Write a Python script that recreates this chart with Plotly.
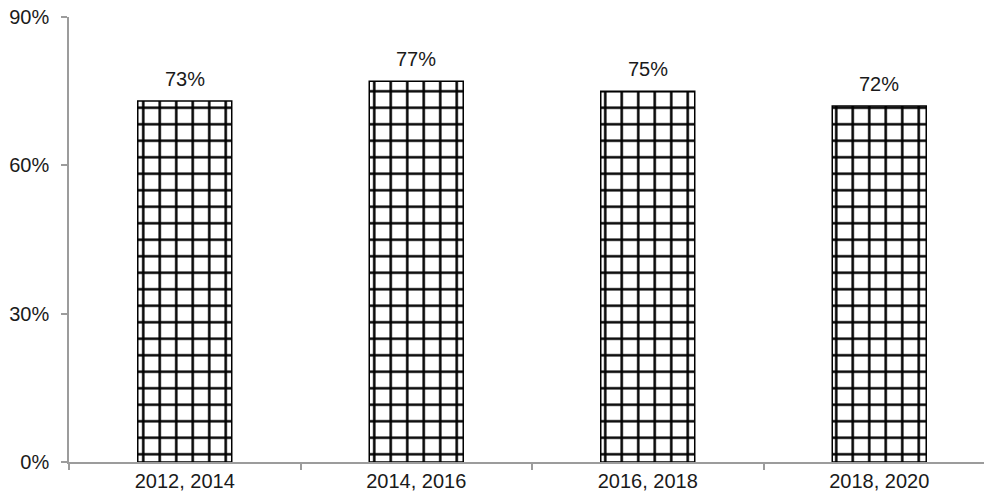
import plotly.graph_objects as go

# Period labels and share values (percent)
periods = ["2012, 2014", "2014, 2016", "2016, 2018", "2018, 2020"]
shares = [73, 77, 75, 72]
y_ticks = [0, 30, 60, 90]

FONT = "Liberation Sans, Arial, sans-serif"

fig = go.Figure(
    go.Bar(
        x=periods,
        y=shares,
        marker=dict(
            color="white",
            line=dict(color="black", width=1.5),
            pattern=dict(shape="+", fgcolor="black", bgcolor="white",
                         size=16.5, solidity=0.28, fillmode="replace"),
        ),
        width=0.406,
    )
)

# value labels sitting above each bar
for p, v in zip(periods, shares):
    fig.add_annotation(
        x=p, y=v, text=f"{v}%", showarrow=False,
        yanchor="middle", yshift=22,
        font=dict(family=FONT, size=20, color="#1a1a1a"),
    )

fig.update_layout(
    width=984,
    height=502,
    margin=dict(l=69, r=0, t=17, b=40),
    plot_bgcolor="white",
    paper_bgcolor="white",
    font=dict(family=FONT, size=20, color="#1a1a1a"),
    showlegend=False,
)

fig.update_yaxes(
    range=[0, 90],
    tickvals=y_ticks,
    ticktext=[f"{v}%" for v in y_ticks],
    showgrid=False,
    zeroline=False,
    showline=True,
    linecolor="#9c9c9c",
    linewidth=1.5,
    ticks="outside",
    ticklen=6,
    tickcolor="#9c9c9c",
    tickwidth=1.5,
    ticklabelstandoff=8,
)

fig.update_xaxes(
    range=[-0.5, 3.4525],
    showgrid=False,
    showline=True,
    linecolor="#9c9c9c",
    linewidth=1.5,
    ticks="outside",
    tickson="boundaries",
    ticklen=6,
    tickcolor="#9c9c9c",
    tickwidth=1.5,
)

fig.write_html("out.html")
